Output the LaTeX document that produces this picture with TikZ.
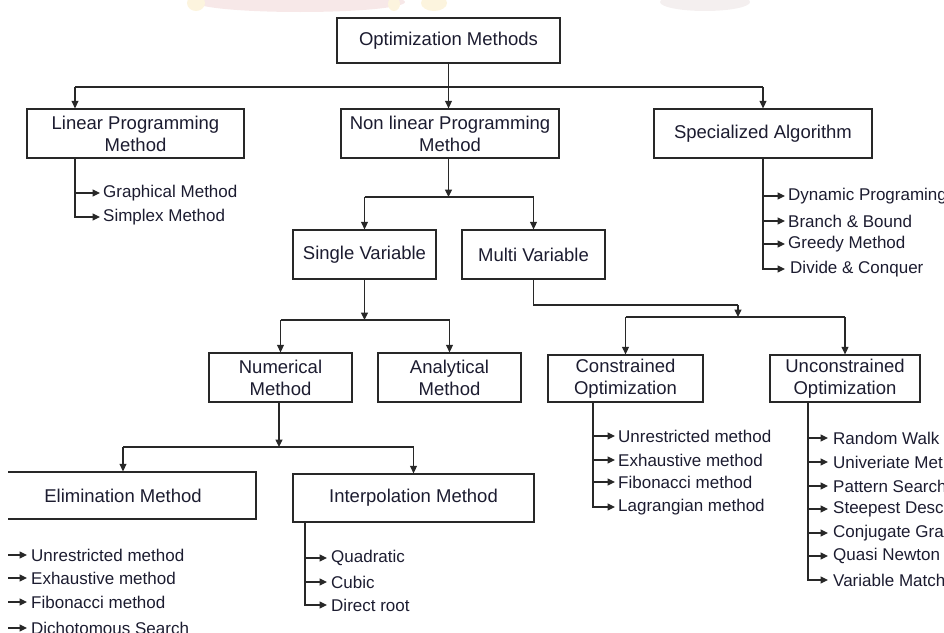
\documentclass[tikz,border=0pt]{standalone}
\usepackage{fontspec}
\setmainfont{Liberation Sans}
\usetikzlibrary{arrows.meta}
\definecolor{txt}{RGB}{28,28,48}
\definecolor{lnc}{RGB}{40,40,40}
\definecolor{wmpink}{RGB}{247,232,232}
\definecolor{wmyel}{RGB}{252,244,222}
\definecolor{wmgray}{RGB}{244,239,239}
\begin{document}
\begin{tikzpicture}[x=1pt,y=-1pt,
  box/.style={draw=lnc, line width=1.3pt, fill=white, text=txt, align=center, inner sep=0pt,
    font=\fontsize{18.5}{22}\selectfont},
  item/.style={anchor=west, text=txt, inner xsep=3pt, inner ysep=0pt,
    font=\fontsize{17}{20}\selectfont},
  ln/.style={draw=lnc, line width=1.2pt},
  arr/.style={ln, -{Triangle[length=7.5pt,width=7pt]}}]
\useasboundingbox (0,0) rectangle (944,632);
\clip (0,0) rectangle (944,632);
% faint watermark remains at the top
\fill[wmpink] (300,2) ellipse [x radius=105, y radius=10];
\fill[wmyel] (196,3) ellipse [x radius=9, y radius=8];
\fill[wmyel] (394,4) ellipse [x radius=6, y radius=7];
\fill[wmyel] (434,3) ellipse [x radius=13, y radius=8];
\fill[wmgray] (705,2) ellipse [x radius=45, y radius=9];
% boxes
\node[box, minimum width=223pt, minimum height=45pt] (opt) at (448.5,40.5) {Optimization Methods};
\node[box, minimum width=217pt, minimum height=49pt] (lin) at (135.5,133.5) {Linear Programming\\Method};
\node[box, minimum width=218pt, minimum height=49pt] (nlp) at (450,133.5) {Non linear Programming\\Method};
\node[box, minimum width=218pt, minimum height=49pt] (spec) at (763,133.5) {Specialized Algorithm};
\node[box, minimum width=143pt, minimum height=49pt] (sv) at (364.5,254.5) {Single Variable};
\node[box, minimum width=143pt, minimum height=49pt] (mv) at (533.5,254.5) {Multi Variable};
\node[box, minimum width=143pt, minimum height=49pt] (num) at (280.5,377.5) {Numerical\\Method};
\node[box, minimum width=143pt, minimum height=49pt] (ana) at (449.5,377.5) {Analytical\\Method};
\node[box, minimum width=155pt, minimum height=47pt] (con) at (625.5,378.5) {Constrained\\Optimization};
\node[box, minimum width=150pt, minimum height=47pt] (unc) at (845,378.5) {Unconstrained\\Optimization};
\node[box, minimum width=241pt, minimum height=48pt] (interp) at (413.5,498) {Interpolation Method};
% helper coordinates
\coordinate (b1) at (0,87);
\coordinate (b2) at (0,197);
\coordinate (b3) at (0,320);
\coordinate (b4) at (0,447);
\coordinate (b5) at (0,317);
\coordinate (m1) at (738,305);
\coordinate (lx) at (75,0);
\coordinate (nx) at (279,0);
\coordinate (cx) at (593,0);
\coordinate (ux) at (808,0);
\coordinate (ix) at (305,0);
\coordinate (ex) at (0,0);
% level 1
\draw[ln] (opt.south) -- (opt.south |- b1);
\draw[ln] (lx |- b1) -- (spec.north |- b1);
\draw[arr] (opt.south |- b1) -- (nlp.north -| opt.south);
\draw[arr] (lx |- b1) -- (lin.north -| lx);
\draw[arr] (spec.north |- b1) -- (spec.north);
% non linear
\draw[arr] (nlp.south -| opt.south) -- (opt.south |- b2);
\draw[ln] (sv.north |- b2) -- (mv.north |- b2);
\draw[arr] (sv.north |- b2) -- (sv.north);
\draw[arr] (mv.north |- b2) -- (mv.north);
% single variable
\draw[arr] (sv.south) -- (sv.south |- b3);
\draw[ln] (num.north |- b3) -- (ana.north |- b3);
\draw[arr] (num.north |- b3) -- (num.north);
\draw[arr] (ana.north |- b3) -- (ana.north);
% multi variable
\draw[ln] (mv.south) |- (m1);
\draw[arr] (m1) -- (m1 |- b5);
\draw[ln] (con.north |- b5) -- (unc.north |- b5);
\draw[arr] (con.north |- b5) -- (con.north);
\draw[arr] (unc.north |- b5) -- (unc.north);
% linear items
\node[item] (lp1) at (100,193) {Graphical Method};
\node[item] (lp2) at (100,217) {Simplex Method};
\draw[arr] (lin.south -| lx) |- (lp2.west);
\draw[arr] (lx |- lp1.west) -- (lp1.west);
% specialized items
\node[item] (sp1) at (785,196) {Dynamic Programing};
\node[item] (sp2) at (785,221) {Branch \& Bound};
\node[item] (sp3) at (785,244) {Greedy Method};
\node[item, inner xsep=5pt] (sp4) at (785,269) {Divide \& Conquer};
\draw[arr] (spec.south) |- (sp4.west);
\draw[arr] (spec.south |- sp1.west) -- (sp1.west);
\draw[arr] (spec.south |- sp2.west) -- (sp2.west);
\draw[arr] (spec.south |- sp3.west) -- (sp3.west);
% constrained items
\node[item] (c1) at (615,436) {Unrestricted method};
\node[item] (c2) at (615,460) {Exhaustive method};
\node[item] (c3) at (615,482) {Fibonacci method};
\node[item] (c4) at (615,507) {Lagrangian method};
\draw[arr] (con.south -| cx) |- (c4.west);
\draw[arr] (cx |- c1.west) -- (c1.west);
\draw[arr] (cx |- c2.west) -- (c2.west);
\draw[arr] (cx |- c3.west) -- (c3.west);
% unconstrained items
\node[item, inner xsep=5pt] (u1) at (828,438) {Random Walk};
\node[item, inner xsep=5pt] (u2) at (828,462) {Univeriate Met};
\node[item, inner xsep=5pt] (u3) at (828,486) {Pattern Search};
\node[item, inner xsep=5pt] (u4) at (828,509) {Steepest Desc};
\node[item, inner xsep=5pt] (u5) at (828,533) {Conjugate Gra};
\node[item, inner xsep=5pt] (u6) at (828,556) {Quasi Newton};
\node[item, inner xsep=5pt] (u7) at (828,580) {Variable Match};
\draw[arr] (unc.south -| ux) |- (u7.west);
\draw[arr] (ux |- u1.west) -- (u1.west);
\draw[arr] (ux |- u2.west) -- (u2.west);
\draw[arr] (ux |- u3.west) -- (u3.west);
\draw[arr] (ux |- u4.west) -- (u4.west);
\draw[arr] (ux |- u5.west) -- (u5.west);
\draw[arr] (ux |- u6.west) -- (u6.west);
% numerical
\draw[arr] (num.south -| nx) -- (nx |- b4);
% interpolation items
\node[item, inner xsep=4pt] (i1) at (327,558) {Quadratic};
\node[item, inner xsep=4pt] (i2) at (327,582) {Cubic};
\node[item, inner xsep=4pt] (i3) at (327,605) {Direct root};
\draw[arr] (interp.south -| ix) |- (i3.west);
\draw[arr] (ix |- i1.west) -- (i1.west);
\draw[arr] (ix |- i2.west) -- (i2.west);
% elimination (cut at the left edge)
\begin{scope}
\clip (8,0) rectangle (944,632);
\node[box, minimum width=266pt, minimum height=47pt] (elim) at (123,495.5) {Elimination Method};
\node[item, inner xsep=4pt] (e1) at (27,555) {Unrestricted method};
\node[item, inner xsep=4pt] (e2) at (27,578) {Exhaustive method};
\node[item, inner xsep=4pt] (e3) at (27,602) {Fibonacci method};
\node[item, inner xsep=4pt] (e4) at (27,628) {Dichotomous Search};
\draw[arr] (elim.south -| ex) |- (e4.west);
\draw[arr] (ex |- e1.west) -- (e1.west);
\draw[arr] (ex |- e2.west) -- (e2.west);
\draw[arr] (ex |- e3.west) -- (e3.west);
\end{scope}
\draw[ln] (elim.north |- b4) -- (interp.north |- b4);
\draw[arr] (elim.north |- b4) -- (elim.north);
\draw[arr] (interp.north |- b4) -- (interp.north);
\end{tikzpicture}
\end{document}
